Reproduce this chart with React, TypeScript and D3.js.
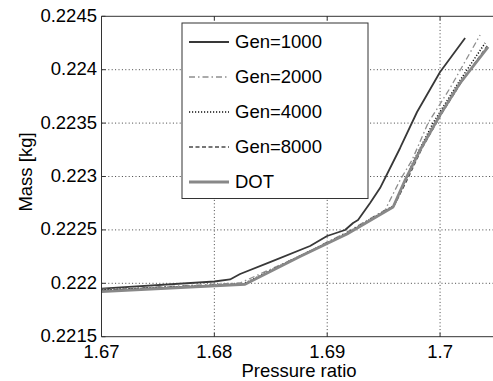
import React from "react";
import * as d3 from "d3";

const xTicks = [1.67, 1.68, 1.69, 1.7];
const yTicks = [0.2215, 0.222, 0.2225, 0.223, 0.2235, 0.224, 0.2245];

const gen1000P = [1.67, 1.68, 1.68139, 1.68228, 1.68493, 1.68848, 1.68999, 1.69158, 1.69229, 1.69273, 1.6938, 1.69468, 1.69584, 1.69646, 1.69796, 1.7, 1.70222];
const gen1000M = [0.221951, 0.222017, 0.222036, 0.222087, 0.222199, 0.222349, 0.222443, 0.222499, 0.222565, 0.222593, 0.222752, 0.222892, 0.223136, 0.223267, 0.223604, 0.223979, 0.224297];

const gen2000P = [1.67, 1.68228, 1.68759, 1.69176, 1.69513, 1.69557, 1.69646, 1.69752, 1.69894, 1.70089, 1.70355];
const gen2000M = [0.221942, 0.222003, 0.222256, 0.22248, 0.222686, 0.22278, 0.222967, 0.223154, 0.223501, 0.223829, 0.224325];

const gen4000P = [1.67, 1.68254, 1.68759, 1.69176, 1.69584, 1.69619, 1.69761, 1.69938, 1.7016, 1.70399];
const gen4000M = [0.221937, 0.221993, 0.222256, 0.222471, 0.222724, 0.22278, 0.223136, 0.223501, 0.223875, 0.22425];

const gen8000P = [1.67, 1.68272, 1.68759, 1.69176, 1.69592, 1.69717, 1.69841, 1.70018, 1.70195, 1.70417];
const gen8000M = [0.221933, 0.221993, 0.222256, 0.222462, 0.222724, 0.222986, 0.223267, 0.223595, 0.223894, 0.224222];

const dotP = [1.67, 1.68272, 1.68759, 1.69176, 1.69584, 1.6969, 1.69823, 1.7, 1.70177, 1.70426];
const dotM = [0.221923, 0.221991, 0.222251, 0.222462, 0.222714, 0.222967, 0.223248, 0.223576, 0.223875, 0.224213];

const seriesNames = ["Gen=1000", "Gen=2000", "Gen=4000", "Gen=8000", "DOT"];

const W = 493;
const H = 381;
const M = { left: 101.5, top: 16.3, right: 496.5, bottom: 336.7 };
const FONT = "'Liberation Sans', Arial, Helvetica, sans-serif";
const FS = 18.5;

const styles = [
  { stroke: "#383838", width: 1.8, dash: "" },
  { stroke: "#8e8e8e", width: 1.3, dash: "6,3,1.5,3" },
  { stroke: "#111111", width: 1.5, dash: "1.2,1.8" },
  { stroke: "#4a4a4a", width: 1.3, dash: "4,2.5" },
  { stroke: "#888888", width: 2.8, dash: "" },
];

export default function App() {
  const x = d3.scaleLinear().domain([1.67, 1.705]).range([M.left, M.right]);
  const y = d3.scaleLinear().domain([0.2215, 0.2245]).range([M.bottom, M.top]);

  const series = [
    [gen1000P, gen1000M],
    [gen2000P, gen2000M],
    [gen4000P, gen4000M],
    [gen8000P, gen8000M],
    [dotP, dotM],
  ].map(([p, m]) => p.map((v, i) => [v, m[i]] as [number, number]));

  const line = d3
    .line<[number, number]>()
    .x((d) => x(d[0]))
    .y((d) => y(d[1]));

  const fmtY = (v: number) => String(+v.toFixed(4));
  const fmtX = (v: number) => String(+v.toFixed(2));

  const legX = 182;
  const legY = 23;
  const legW = 186;
  const legH = 175.5;
  const rowY = (i: number) => 42 + i * 35;

  return (
    <svg
      width={W}
      height={H}
      style={{ position: "absolute", left: 0, top: 0, background: "#fff" }}
      fontFamily={FONT}
    >
      <rect x={0} y={0} width={W} height={H} fill="#fff" />
      {xTicks.slice(1).map((t) => (
        <line
          key={"gx" + t}
          x1={x(t)}
          x2={x(t)}
          y1={M.top}
          y2={M.bottom}
          stroke="#444"
          strokeWidth={1}
          strokeDasharray="1,2.4"
        />
      ))}
      {yTicks.slice(1, -1).map((t) => (
        <line
          key={"gy" + t}
          x1={M.left}
          x2={M.right}
          y1={y(t)}
          y2={y(t)}
          stroke="#444"
          strokeWidth={1}
          strokeDasharray="1,2.4"
        />
      ))}
      {xTicks.map((t) => (
        <g key={"tx" + t}>
          <line x1={x(t)} x2={x(t)} y1={M.bottom} y2={M.bottom - 4} stroke="#333" />
          <line x1={x(t)} x2={x(t)} y1={M.top} y2={M.top + 4} stroke="#333" />
        </g>
      ))}
      {yTicks.map((t) => (
        <line key={"ty" + t} x1={M.left} x2={M.left + 4} y1={y(t)} y2={y(t)} stroke="#333" />
      ))}
      {series.map((d, i) => (
        <path
          key={"s" + i}
          d={line(d) || ""}
          fill="none"
          stroke={styles[i].stroke}
          strokeWidth={styles[i].width}
          strokeDasharray={styles[i].dash || undefined}
          strokeLinejoin="round"
        />
      ))}
      <path
        d={`M${M.right},${M.top}H${M.left}V${M.bottom}H${M.right}`}
        fill="none"
        stroke="#333"
        strokeWidth={1}
      />
      {yTicks.map((t) => (
        <text
          key={"ly" + t}
          x={97}
          y={y(t)}
          dy="0.3em"
          textAnchor="end"
          fontSize={FS}
          fill="#000"
        >
          {fmtY(t)}
        </text>
      ))}
      {xTicks.map((t) => (
        <text
          key={"lx" + t}
          x={x(t)}
          y={357.5}
          textAnchor="middle"
          fontSize={FS}
          fill="#000"
        >
          {fmtX(t)}
        </text>
      ))}
      <text x={299} y={376.5} textAnchor="middle" fontSize={FS} fill="#000">
        Pressure ratio
      </text>
      <text
        transform={`translate(32,172) rotate(-90)`}
        textAnchor="middle"
        fontSize={FS}
        fill="#000"
      >
        Mass [kg]
      </text>
      <rect x={legX} y={legY} width={legW} height={legH} fill="#fff" stroke="#333" strokeWidth={1} />
      {seriesNames.map((n, i) => (
        <g key={"lg" + i}>
          <line
            x1={189}
            x2={229}
            y1={rowY(i)}
            y2={rowY(i)}
            stroke={styles[i].stroke}
            strokeWidth={styles[i].width}
            strokeDasharray={styles[i].dash || undefined}
          />
          <text x={235} y={rowY(i)} dy="0.35em" fontSize={FS} fill="#000">
            {n}
          </text>
        </g>
      ))}
    </svg>
  );
}
